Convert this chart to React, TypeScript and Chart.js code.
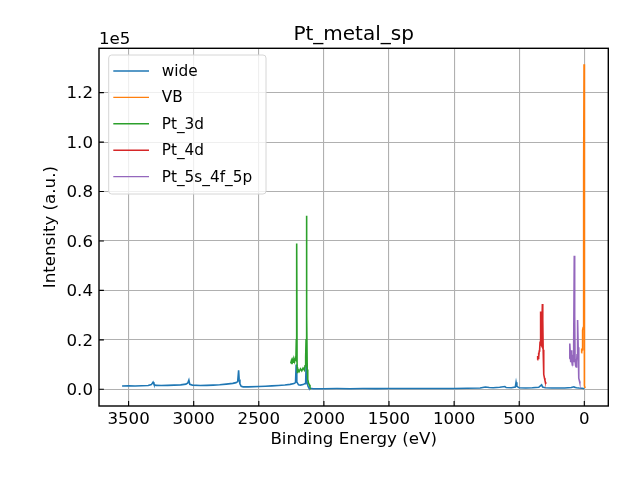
import { useEffect, useRef } from "react";
import { Chart, registerables } from "chart.js";

Chart.register(...registerables);

// binding energy (eV) / intensity pairs
const wideEnergy = [
  3550, 3500, 3450, 3400, 3350, 3325, 3312, 3305, 3290, 3250, 3200, 3150, 3100, 3060, 3045, 3037, 3030,
  3010, 2950, 2900, 2850, 2800, 2750, 2700, 2675, 2662, 2655, 2651, 2645, 2635, 2620, 2580, 2500, 2450,
  2400, 2350, 2300, 2260, 2230, 2218, 2213, 2208, 2195, 2180, 2160, 2145, 2140, 2136, 2130, 2122, 2116,
  2110, 2080, 2000, 1900, 1800, 1700, 1600, 1500, 1400, 1300, 1200, 1100, 1000, 900, 800, 760, 730, 700,
  650, 610, 600, 560, 530, 524, 518, 500, 450, 400, 350, 335, 328, 320, 300, 250, 200, 150, 100, 80, 75,
  60, 40, 20, 5, 0,
];
const wideIntensity = [
  1350, 1400, 1350, 1450, 1550, 1900, 2900, 2000, 1600, 1550, 1600, 1700, 1800, 2100, 2600, 3700, 2000,
  1700, 1550, 1600, 1700, 1850, 2100, 2400, 2700, 3100, 7700, 4000, 2200, 1200, 1000, 1000, 1150, 1250,
  1400, 1550, 1750, 2000, 2300, 2700, 10000, 3000, 1800, 1700, 1900, 2300, 2800, 10500, 3000, 1200, 600,
  400, 250, 250, 300, 250, 300, 280, 300, 320, 300, 350, 330, 350, 400, 500, 900, 700, 600, 800, 1100,
  700, 600, 900, 2900, 1200, 600, 550, 600, 800, 1500, 1800, 900, 600, 550, 500, 550, 700, 1000, 800, 600,
  500, 450, 300, 200,
];

const vbEnergy = [23, 21, 19, 17, 15, 13, 11, 9, 7, 5, 3, 2, 1, 0, -1, -3, -6];
const vbIntensity = [
  14800, 16500, 15200, 16000, 18500, 22500, 24000, 25000, 30000, 45000, 90000, 131500, 122000, 60000,
  8000, 1500, 500,
];

const pt3dEnergy = [
  2255, 2250, 2245, 2240, 2235, 2230, 2225, 2220, 2215, 2212, 2209, 2206, 2203, 2198, 2190, 2180, 2170,
  2160, 2150, 2145, 2140, 2137, 2134, 2131, 2128, 2124, 2118, 2112, 2107,
];
const pt3dIntensity = [
  10500, 11500, 10200, 11800, 11000, 12000, 11200, 12500, 12000, 20000, 59000, 9000, 6500, 8000, 7200,
  8300, 7500, 8600, 7800, 9500, 13000, 20000, 70200, 30000, 8000, 4000, 2500, 1800, 1200,
];

const pt4dEnergy = [
  361, 358, 355, 352, 349, 346, 343, 340, 337, 334, 331, 328, 325, 322, 319, 316, 313, 310, 306, 302, 298,
  294,
];
const pt4dIntensity = [
  12000, 13500, 12500, 14800, 13000, 15500, 16000, 19000, 31500, 25000, 18000, 17500, 24000, 34500, 28000,
  16000, 9000, 6000, 4500, 3500, 2800, 2200,
];

const pt5sEnergy = [
  116, 113, 110, 107, 104, 101, 98, 95, 92, 89, 86, 83, 80, 77, 74, 71, 68, 65, 62, 59, 56, 53, 50, 47, 44,
  41, 38, 35, 32,
];
const pt5sIntensity = [
  12500, 15000, 18500, 14000, 11000, 12500, 15800, 11500, 9800, 12500, 14000, 11000, 18000, 54000, 30000,
  12000, 10500, 9500, 9000, 11000, 14000, 22000, 28000, 17000, 8000, 4500, 3500, 2800, 2400,
];

const seriesLabels = ["wide", "VB", "Pt_3d", "Pt_4d", "Pt_5s_4f_5p"];
const seriesColors = ["#1f77b4", "#ff7f0e", "#2ca02c", "#d62728", "#9467bd"];
const xTickValues = [0, 500, 1000, 1500, 2000, 2500, 3000, 3500];
const yTickValues = [0, 20000, 40000, 60000, 80000, 100000, 120000];

const FONT = "'DejaVu Sans', sans-serif";

const zip = (xs: number[], ys: number[]) => xs.map((x, i) => ({ x, y: ys[i] }));

const overlay = {
  id: "mplOverlay",
  afterDraw(chart: any) {
    const { ctx, chartArea: a, scales } = chart;
    ctx.save();

    // inward ticks
    ctx.strokeStyle = "#000";
    ctx.lineWidth = 1.1;
    ctx.beginPath();
    xTickValues.forEach((v) => {
      const px = scales.x.getPixelForValue(v);
      ctx.moveTo(px, a.bottom);
      ctx.lineTo(px, a.bottom - 4.9);
    });
    yTickValues.forEach((v) => {
      const py = scales.y.getPixelForValue(v);
      ctx.moveTo(a.left, py);
      ctx.lineTo(a.left + 4.9, py);
    });
    ctx.stroke();

    // frame
    ctx.lineWidth = 1.4;
    ctx.strokeRect(a.left, a.top, a.right - a.left, a.bottom - a.top);

    // title and offset text
    ctx.fillStyle = "#000";
    ctx.textBaseline = "alphabetic";
    ctx.textAlign = "center";
    ctx.font = `20px ${FONT}`;
    ctx.fillText("Pt_metal_sp", (a.left + a.right) / 2, a.top - 8.3);
    ctx.textAlign = "left";
    ctx.font = `16.67px ${FONT}`;
    ctx.fillText("1e5", a.left, a.top - 4);

    // legend box
    const lx = a.left + 9.7;
    const ly = a.top + 6.7;
    const lw = 157.3;
    const lh = 139;
    ctx.beginPath();
    ctx.roundRect(lx, ly, lw, lh, 3);
    ctx.fillStyle = "rgba(255,255,255,0.8)";
    ctx.fill();
    ctx.strokeStyle = "#d6d6d6";
    ctx.lineWidth = 1;
    ctx.stroke();

    ctx.font = `15.3px ${FONT}`;
    ctx.textBaseline = "middle";
    chart.data.datasets.forEach((ds: any, i: number) => {
      const ry = ly + 16 + i * 26.4;
      ctx.strokeStyle = ds.borderColor;
      ctx.lineWidth = 1.4;
      ctx.beginPath();
      ctx.moveTo(lx + 4.6, ry);
      ctx.lineTo(lx + 40.3, ry);
      ctx.stroke();
      ctx.fillStyle = "#000";
      ctx.fillText(ds.label, lx + 53, ry + 1);
    });

    ctx.restore();
  },
};

const App: React.FC = () => {
  const chartRef = useRef<HTMLCanvasElement | null>(null);
  const chartInstance = useRef<Chart | null>(null);

  useEffect(() => {
    if (!chartRef.current) return;
    if (chartInstance.current) chartInstance.current.destroy();

    const seriesData = [
      zip(wideEnergy, wideIntensity),
      zip(vbEnergy, vbIntensity),
      zip(pt3dEnergy, pt3dIntensity),
      zip(pt4dEnergy, pt4dIntensity),
      zip(pt5sEnergy, pt5sIntensity),
    ];

    chartInstance.current = new Chart(chartRef.current, {
      type: "line",
      data: {
        datasets: seriesData.map((data, i) => ({
          label: seriesLabels[i],
          data,
          borderColor: seriesColors[i],
          backgroundColor: seriesColors[i],
          borderWidth: 1.6,
          pointRadius: 0,
          tension: 0,
          order: seriesLabels.length - i,
        })),
      },
      options: {
        responsive: false,
        animation: false,
        layout: { padding: { left: 0, top: 48.3, right: 31.7, bottom: 0 } },
        plugins: { legend: { display: false }, title: { display: false }, tooltip: { enabled: false } },
        scales: {
          x: {
            type: "linear",
            reverse: true,
            min: -184.3,
            max: 3727.3,
            afterBuildTicks: (scale: any) => {
              scale.ticks = xTickValues.map((value) => ({ value }));
            },
            afterFit: (scale: any) => {
              scale.height = 74;
            },
            grid: { color: "#b0b0b0", lineWidth: 1.1, drawTicks: false },
            border: { display: false },
            ticks: {
              color: "#000",
              padding: 4,
              font: { family: FONT, size: 16.67 },
              callback: (v: any) => String(v),
            },
            title: {
              display: true,
              text: "Binding Energy (eV)",
              color: "#000",
              font: { family: FONT, size: 16.67 },
              padding: { top: 0, bottom: 30 },
            },
          },
          y: {
            type: "linear",
            min: -6756,
            max: 137945,
            afterBuildTicks: (scale: any) => {
              scale.ticks = yTickValues.map((value) => ({ value }));
            },
            afterFit: (scale: any) => {
              scale.width = 99;
            },
            grid: { color: "#b0b0b0", lineWidth: 1.1, drawTicks: false },
            border: { display: false },
            ticks: {
              color: "#000",
              padding: 6,
              labelOffset: 1.5,
              font: { family: FONT, size: 16.67 },
              callback: (v: any) => (Number(v) / 1e5).toFixed(1),
            },
            title: {
              display: true,
              text: "Intensity (a.u.)",
              color: "#000",
              font: { family: FONT, size: 16.67 },
              padding: { top: 41, bottom: 0 },
            },
          },
        },
      },
      plugins: [overlay],
    });

    return () => {
      if (chartInstance.current) {
        chartInstance.current.destroy();
        chartInstance.current = null;
      }
    };
  }, []);

  return (
    <div style={{ position: "fixed", left: 0, top: 0, width: 640, height: 480, background: "#fff" }}>
      <canvas ref={chartRef} width={640} height={480} />
    </div>
  );
};

export default App;
